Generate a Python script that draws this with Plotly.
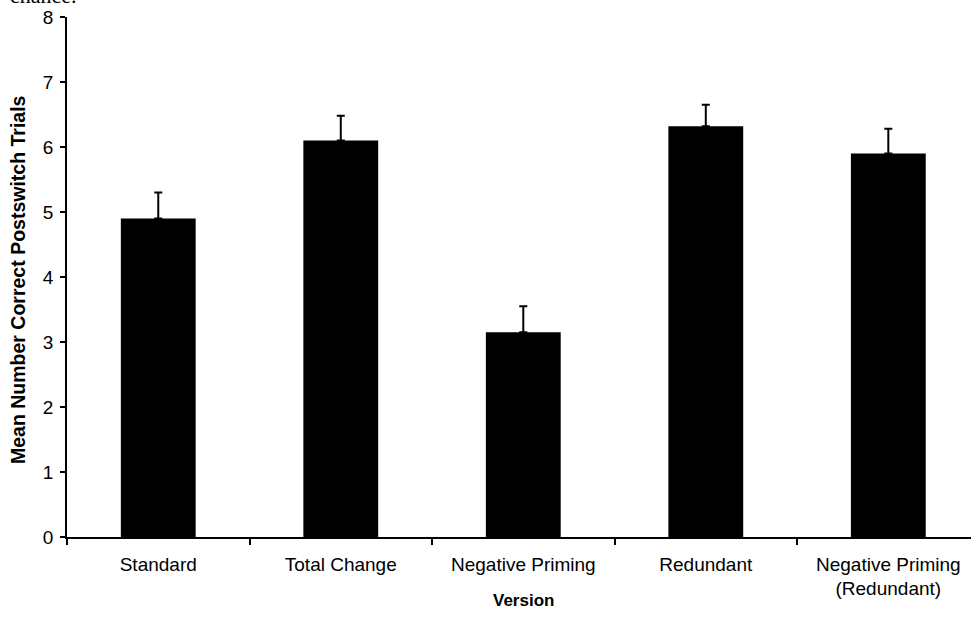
import plotly.graph_objects as go

categories = ["Standard", "Total Change", "Negative Priming", "Redundant",
              "Negative Priming<br>(Redundant)"]
means = [4.9, 6.1, 3.15, 6.32, 5.9]
errors = [0.4, 0.38, 0.4, 0.33, 0.38]
y_ticks = [0, 1, 2, 3, 4, 5, 6, 7, 8]

fig = go.Figure()
fig.add_trace(go.Bar(
    x=categories, y=means,
    marker=dict(color="black", line=dict(width=0)),
    width=0.41,
    error_y=dict(type="data", array=errors, arrayminus=[0]*len(errors),
                 symmetric=False, color="black", thickness=2, width=4),
))

font_main = "Liberation Sans, Arial, sans-serif"
fig.update_layout(
    width=971, height=634,
    margin=dict(l=67, r=0, t=17, b=97),
    paper_bgcolor="white", plot_bgcolor="white",
    showlegend=False,
    font=dict(family=font_main, color="black", size=16),
    xaxis=dict(
        type="category",
        range=[-0.5, 4.453],
        tickson="boundaries",
        automargin=False,
        ticks="outside", ticklen=6, tickcolor="black", tickwidth=1.5,
        showline=True, linecolor="black", linewidth=1.5,
        showgrid=False, zeroline=False,
        tickfont=dict(size=19),
        ticklabelstandoff=9,
    ),
    yaxis=dict(
        range=[0, 8],
        tickvals=y_ticks,
        automargin=False,
        ticks="outside", ticklen=5, tickcolor="black", tickwidth=1.5,
        showline=True, linecolor="black", linewidth=1.5,
        showgrid=False, zeroline=False,
        tickfont=dict(size=19),
        ticklabelstandoff=3,
    ),
)

fig.add_annotation(
    text="<b>Version</b>", xref="paper", yref="paper", x=0.5, y=0,
    xanchor="center", yanchor="middle", yshift=-63, xshift=4, showarrow=False,
    font=dict(size=17),
)
fig.add_annotation(
    text="<b>Mean Number Correct Postswitch Trials</b>", xref="paper", yref="paper",
    x=0, y=0.5, xanchor="center", yanchor="middle", xshift=-49, yshift=-3,
    textangle=-90, showarrow=False, font=dict(size=19.5),
)

fig.add_annotation(
    text="chance.", xref="paper", yref="paper", x=-0.065, y=1.0,
    xanchor="left", yanchor="bottom", yshift=7, showarrow=False,
    font=dict(family="Liberation Serif, Times New Roman, serif", size=22, color="black"),
)

fig.write_html("out.html", config={"displayModeBar": False},
               post_script="document.body.style.margin='0';")
